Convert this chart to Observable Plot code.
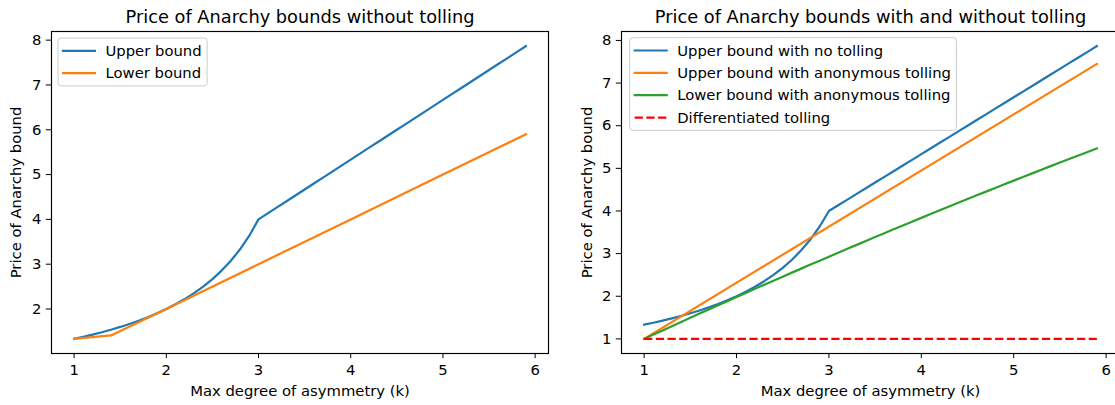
<!DOCTYPE html>
<html>
<head>
<meta charset="utf-8">
<script src="https://cdn.jsdelivr.net/npm/d3@7"></script>
<script src="https://cdn.jsdelivr.net/npm/@observablehq/plot@0.6"></script>
<style>
  html, body { margin: 0; padding: 0; background: #fff; overflow: hidden; }
  #fig { position: relative; width: 1115px; height: 405px; overflow: hidden; background: #fff; }
  #fig > svg { position: absolute; top: 0; }
</style>
</head>
<body>
<div id="fig"></div>
<script>
// Max degree of asymmetry k, sampled every 0.1
const kGrid = [1.0, 1.1, 1.2, 1.3, 1.4, 1.5, 1.6, 1.7, 1.8, 1.9,
               2.0, 2.1, 2.2, 2.3, 2.4, 2.5, 2.6, 2.7, 2.8, 2.9,
               3.0, 3.1, 3.2, 3.3, 3.4, 3.5, 3.6, 3.7, 3.8, 3.9,
               4.0, 4.1, 4.2, 4.3, 4.4, 4.5, 4.6, 4.7, 4.8, 4.9,
               5.0, 5.1, 5.2, 5.3, 5.4, 5.5, 5.6, 5.7, 5.8, 5.9];

// Upper bound with no tolling (same curve in both panels)
const upperNoToll = [1.333, 1.379, 1.429, 1.481, 1.538, 1.600, 1.667, 1.739, 1.818, 1.905,
                     2.000, 2.105, 2.222, 2.353, 2.500, 2.667, 2.857, 3.077, 3.333, 3.636,
                     4.000, 4.133, 4.267, 4.400, 4.533, 4.667, 4.800, 4.933, 5.067, 5.200,
                     5.333, 5.467, 5.600, 5.733, 5.867, 6.000, 6.133, 6.267, 6.400, 6.533,
                     6.667, 6.800, 6.933, 7.067, 7.200, 7.333, 7.467, 7.600, 7.733, 7.867];

// Lower bound with anonymous tolling
const lowerAnonToll = [1.000, 1.100, 1.199, 1.298, 1.397, 1.496, 1.594, 1.691, 1.788, 1.885,
                       1.982, 2.078, 2.174, 2.270, 2.365, 2.460, 2.554, 2.648, 2.742, 2.835,
                       2.928, 3.021, 3.113, 3.205, 3.296, 3.388, 3.478, 3.569, 3.659, 3.749,
                       3.838, 3.927, 4.016, 4.104, 4.192, 4.280, 4.367, 4.454, 4.540, 4.626,
                       4.712, 4.797, 4.882, 4.967, 5.052, 5.136, 5.219, 5.302, 5.385, 5.468];

// Lower bound without tolling
const lowerNoTollK = [1, 1.4, 2, 3, 4, 5, 5.9];
const lowerNoToll  = [1.333, 1.41, 2, 3, 4, 5, 5.9];

// Upper bound with anonymous tolling
const upperAnonTollK = [1, 5.9];
const upperAnonToll  = [1, 7.45];

// Differentiated tolling
const diffTollK = [1, 5.9];
const diffToll  = [1, 1];

const xTicks = [1, 2, 3, 4, 5, 6];
const yTicksLeft = [2, 3, 4, 5, 6, 7, 8];
const yTicksRight = [1, 2, 3, 4, 5, 6, 7, 8];

const titleLeft = "Price of Anarchy bounds without tolling";
const titleRight = "Price of Anarchy bounds with and without tolling";
const xLabel = "Max degree of asymmetry (k)";
const yLabel = "Price of Anarchy bound";

const BLUE = "#1f77b4", ORANGE = "#ff7f0e", GREEN = "#2ca02c", RED = "#ff0000";

const FONT = "DejaVu Sans";
const FS = 14.8;
const LW = 2.2;
const DASH = "8.2,3.5";
const TICK = 5.2;

const pts = (xs, ys) => xs.map((k, i) => ({k, v: ys[i]}));
const intFmt = d => String(d);

function panel({left, width, marginLeft, marginRight, yDomain, yTicks, title, yLabelDx, series, legendBox}) {
  const marks = [
    ...series.map(s => Plot.line(s.data, {
      x: "k", y: "v", stroke: s.color, strokeWidth: LW,
      strokeDasharray: s.dash ? DASH : null,
      strokeLinecap: s.dash ? "butt" : "square",
      strokeLinejoin: "round"
    })),
    Plot.frame({stroke: "black", strokeWidth: 1.15}),
    Plot.text([title], {text: d => d, frameAnchor: "top", dy: -14.5, fontSize: 17.8,
      textAnchor: "middle", lineAnchor: "middle", fill: "black"}),
    Plot.text([xLabel], {text: d => d, frameAnchor: "bottom", dy: 38, fontSize: FS,
      textAnchor: "middle", lineAnchor: "middle", fill: "black"}),
    Plot.text([yLabel], {text: d => d, frameAnchor: "left", dx: yLabelDx, rotate: -90, fontSize: FS,
      textAnchor: "middle", lineAnchor: "middle", fill: "black"})
  ];
  const svg = Plot.plot({
    width, height: 405,
    marginLeft, marginRight, marginTop: 31, marginBottom: 52,
    x: {domain: [0.755, 6.145], ticks: xTicks, tickFormat: intFmt, tickSize: TICK, tickPadding: 5.5, label: null},
    y: {domain: yDomain, ticks: yTicks, tickFormat: intFmt, tickSize: TICK, tickPadding: 5, label: null},
    style: {fontFamily: FONT, fontSize: FS + "px", color: "black", background: "white", overflow: "visible"},
    marks
  });
  svg.style.left = left + "px";
  document.getElementById("fig").appendChild(svg);

  // legend in the upper-left corner of the axes
  const g = d3.select(svg).append("g")
    .attr("font-family", FONT).attr("font-size", FS).attr("text-anchor", "start");
  const x0 = legendBox.x, y0 = legendBox.y, rowH = 22.35, firstRow = 12.8;
  const rect = g.append("rect")
    .attr("x", x0).attr("y", y0).attr("rx", 3).attr("ry", 3)
    .attr("fill", "white").attr("fill-opacity", 0.8)
    .attr("stroke", "#cccccc").attr("stroke-width", 1);
  let maxW = 0;
  series.forEach((s, i) => {
    const cy = y0 + firstRow + i * rowH;
    g.append("line")
      .attr("x1", x0 + 5).attr("x2", x0 + 37).attr("y1", cy).attr("y2", cy)
      .attr("stroke", s.color).attr("stroke-width", LW)
      .attr("stroke-dasharray", s.dash ? DASH : null)
      .attr("stroke-linecap", s.dash ? "butt" : "square");
    const t = g.append("text").attr("x", x0 + 47.5).attr("y", cy).attr("dy", "0.35em")
      .attr("text-anchor", "start").attr("fill", "black").text(s.name);
    maxW = Math.max(maxW, t.node().getComputedTextLength());
  });
  rect.attr("width", 47.5 + maxW + 5.5)
      .attr("height", firstRow * 2 + (series.length - 1) * rowH);
}

panel({
  left: 0, width: 560, marginLeft: 51, marginRight: 12,
  yDomain: [1.007, 8.193], yTicks: yTicksLeft, title: titleLeft, yLabelDx: -35.5,
  legendBox: {x: 58, y: 38},
  series: [
    {name: "Upper bound", color: BLUE, data: pts(kGrid, upperNoToll)},
    {name: "Lower bound", color: ORANGE, data: pts(lowerNoTollK, lowerNoToll)}
  ]
});

panel({
  left: 560, width: 572, marginLeft: 61, marginRight: 13,
  yDomain: [0.657, 8.21], yTicks: yTicksRight, title: titleRight, yLabelDx: -34,
  legendBox: {x: 69.7, y: 37.7},
  series: [
    {name: "Upper bound with no tolling", color: BLUE, data: pts(kGrid, upperNoToll)},
    {name: "Upper bound with anonymous tolling", color: ORANGE, data: pts(upperAnonTollK, upperAnonToll)},
    {name: "Lower bound with anonymous tolling", color: GREEN, data: pts(kGrid, lowerAnonToll)},
    {name: "Differentiated tolling", color: RED, dash: true, data: pts(diffTollK, diffToll)}
  ]
});
</script>
</body>
</html>
